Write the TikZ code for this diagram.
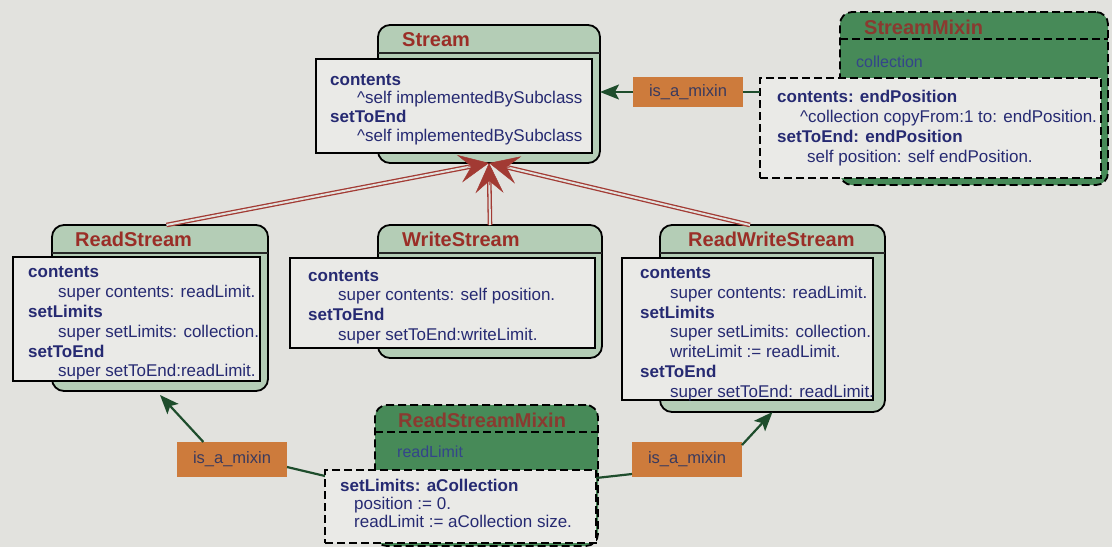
\documentclass[tikz,border=0pt]{standalone}
\usepackage{fontspec}
\setmainfont{Liberation Sans}
\usetikzlibrary{arrows.meta,calc}

\definecolor{paper}{HTML}{E2E2DE}
\definecolor{cardbg}{HTML}{EAEAE7}
\definecolor{pale}{HTML}{B4CDB6}
\definecolor{mixgreen}{HTML}{478A58}
\definecolor{brick}{HTML}{A23A33}
\definecolor{titlered}{HTML}{9A2E27}
\definecolor{mixtitle}{HTML}{8A3A30}
\definecolor{ink}{HTML}{262A72}
\definecolor{amber}{HTML}{CD7B3C}
\definecolor{linkgreen}{HTML}{1E4D2C}
\definecolor{labelink}{HTML}{3A3A5E}
\definecolor{dimink}{HTML}{34458A}

\newcommand\cbody{\fontsize{17}{19.8}\selectfont}
\newcommand\kw[1]{\textbf{#1}}
\newcommand\codeind{\hspace*{30pt}}
\newcommand\caretind{\hspace*{27pt}}

\begin{document}
\begin{tikzpicture}[x=1pt,y=-1pt,
  frame/.style={draw=black, line width=1.8pt, fill=pale, rounded corners=12pt,
    anchor=north west, inner sep=0pt, outer sep=0pt},
  mixframe/.style={frame, fill=mixgreen, dash pattern=on 8pt off 4pt},
  card/.style={draw=black, line width=1.6pt, fill=cardbg, anchor=north west,
    inner sep=0pt, outer sep=0pt},
  mixcard/.style={card, dash pattern=on 8pt off 4pt},
  divider/.style={draw=black!85, line width=1.2pt},
  mixdivider/.style={draw=black, line width=1.6pt, dash pattern=on 8pt off 4pt},
  title/.style={font=\fontsize{20}{24}\selectfont\bfseries, text=titlered,
    anchor=base west, inner sep=0pt},
  mixname/.style={title, text=mixtitle},
  body/.style={font=\cbody, text=ink, align=left, anchor=north west, inner sep=0pt},
  field/.style={font=\fontsize{16}{19}\selectfont, text=dimink, anchor=west, inner sep=0pt},
  tag/.style={fill=amber, text=labelink, font=\fontsize{16.5}{20}\selectfont,
    minimum width=110pt, inner sep=0pt, outer sep=0pt},
  inh/.style={draw=brick, line width=1.3pt, double=paper, double distance=2pt,
    shorten >=18pt},
  inhhead/.style={draw=brick, fill=brick, line width=0.5pt,
    -{Stealth[length=30pt,width=28pt,inset=12pt]}},
  mixlink/.style={draw=linkgreen, line width=2.2pt},
  mixarrow/.style={mixlink, -{Stealth[length=19pt,width=15pt,inset=4pt]}}
]
\useasboundingbox (0,0) rectangle (1112,547);
\clip (0,0) rectangle (1112,547);
\fill[paper] (0,0) rectangle (1112,547);

% ---------- Stream ----------
\node[frame, minimum width=222pt, minimum height=138pt] (st) at (378,25) {};
\draw[divider] (378,53) -- (600,53);
\node[card, minimum width=276pt, minimum height=94pt] (st-card) at (316,59) {};
\node[title] (st-title) at (402,46.7) {Stream};
\node[body, font=\fontsize{17}{18.7}\selectfont] (st-body) at (330,71.9) {\strut\kw{contents}\\
\caretind\textasciicircum self implementedBySubclass\\
\kw{setToEnd}\\
\caretind\textasciicircum self implementedBySubclass};

% ---------- ReadStream ----------
\node[frame, minimum width=216pt, minimum height=166pt] (rs) at (52,225) {};
\draw[divider] (52,253) -- (268,253);
\node[card, minimum width=247pt, minimum height=124pt] (rs-card) at (13,257) {};
\node[title] (rs-title) at (75,246.7) {ReadStream};
\node[body] (rs-body) at (28,263.8) {\strut\kw{contents}\\
\codeind super contents: readLimit.\\
\kw{setLimits}\\
\codeind super setLimits: collection.\\
\kw{setToEnd}\\
\codeind super setToEnd:readLimit.};

% ---------- WriteStream ----------
\node[frame, minimum width=224pt, minimum height=133pt] (ws) at (378,225) {};
\draw[divider] (378,253) -- (602,253);
\node[card, minimum width=305pt, minimum height=90pt] (ws-card) at (290,258) {};
\node[title] (ws-title) at (402,246.7) {WriteStream};
\node[body] (ws-body) at (308,267.1) {\strut\kw{contents}\\
\codeind super contents: self position.\\
\kw{setToEnd}\\
\codeind super setToEnd:writeLimit.};

% ---------- ReadWriteStream ----------
\node[frame, minimum width=225pt, minimum height=187pt] (rws) at (660,225) {};
\draw[divider] (660,253) -- (885,253);
\node[card, minimum width=251pt, minimum height=142pt] (rws-card) at (622,258) {};
\node[title] (rws-title) at (688,246.7) {ReadWriteStream};
\node[body] (rws-body) at (640,264.4) {\strut\kw{contents}\\
\codeind super contents: readLimit.\\
\kw{setLimits}\\
\codeind super setLimits: collection.\\
\codeind writeLimit := readLimit.\\
\kw{setToEnd}\\
\codeind super setToEnd: readLimit.};

% ---------- StreamMixin ----------
\node[mixframe, minimum width=268pt, minimum height=173pt] (sm) at (840,12) {};
\draw[mixdivider] (840,39) -- (1108,39);
\node[mixname] (sm-title) at (864,34) {StreamMixin};
\node[field] (sm-field) at (856,61.7) {collection};
\node[mixcard, minimum width=341pt, minimum height=100pt] (sm-card) at (760,78) {};
\node[body, font=\fontsize{17}{20}\selectfont] (sm-body) at (777,88.7) {\strut\kw{contents: endPosition}\\
\hspace*{23pt}\textasciicircum collection copyFrom:1 to: endPosition.\\
\kw{setToEnd: endPosition}\\
\codeind self position: self endPosition.};

% ---------- ReadStreamMixin ----------
\node[mixframe, minimum width=223pt, minimum height=141pt] (rsm) at (375,405) {};
\draw[mixdivider] (375,432) -- (598,432);
\node[mixname] (rsm-title) at (398,427) {ReadStreamMixin};
\node[field] (rsm-field) at (397,452) {readLimit};
\node[mixcard, minimum width=271pt, minimum height=73pt] (rsm-card) at (325,470) {};
\node[body, font=\fontsize{17}{18}\selectfont] (rsm-body) at (340,479.1) {\strut\kw{setLimits: aCollection}\\
\hspace*{14pt}position := 0.\\
\hspace*{14pt}readLimit := aCollection size.};

% ---------- mixin labels ----------
\node[tag, minimum height=30pt] (mx-top) at (688,92) {is\_a\_mixin};
\node[tag, minimum height=35pt] (mx-left) at (232,459.5) {is\_a\_mixin};
\node[tag, minimum height=35pt] (mx-right) at (687,459.5) {is\_a\_mixin};

% ---------- mixin connectors ----------
\draw[mixarrow] (mx-top.west) -- (mx-top.west -| st.east);
\draw[mixlink] (mx-top.east) -- (mx-top.east -| sm-card.west);

\coordinate (mx-left-top) at ($(mx-left.north west)!0.24!(mx-left.north east)$);
\draw[mixarrow] (mx-left-top) -- ($(rs.south)+(0,4)$);
\draw[mixlink] ($(mx-left.south east)+(0,-10)$) -- ($(rsm-card.north west)+(0,6)$);

\draw[mixarrow] ($(mx-right.north east)+(0,3)$) -- (rws.south);
\draw[mixlink] ($(mx-right.south west)+(0,-3)$) -- ($(rsm-card.north east)+(0,8)$);

% ---------- inheritance ----------
\coordinate (tip) at (st.south);
\coordinate (rs-top) at ($(rs.north west)!0.53!(rs.north east)$);
\coordinate (rws-top) at ($(rws.north west)!0.4!(rws.north east)$);
\draw[inh] (rs-top) -- (tip);
\draw[inh] (ws.north) -- (tip);
\draw[inh] (rws-top) -- (tip);
\draw[inhhead] ($(tip)!22pt!(rs-top)$) -- (tip);
\draw[inhhead] ($(tip)!22pt!(ws.north)$) -- (tip);
\draw[inhhead] ($(tip)!22pt!(rws-top)$) -- (tip);
\end{tikzpicture}
\end{document}
